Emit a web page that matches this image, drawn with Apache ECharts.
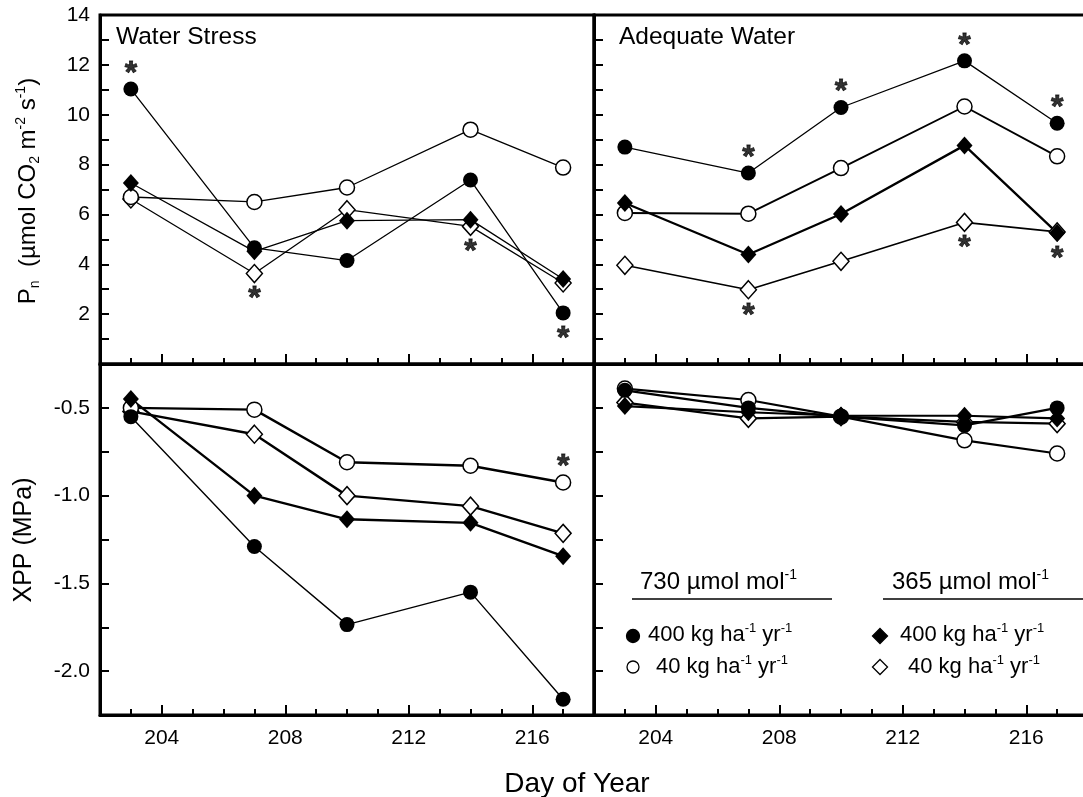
<!DOCTYPE html>
<html><head><meta charset="utf-8">
<script src="https://cdn.jsdelivr.net/npm/echarts@6/dist/echarts.min.js"></script>
<style>html,body{margin:0;padding:0;background:#fff}#c{width:1083px;height:797px}</style>
</head><body><div id="c"></div>
<script>
// ---------------- data ----------------
const days = [203, 207, 210, 214, 217];
const xTickLabels = [204, 208, 212, 216];
const pnTickLabels = [2, 4, 6, 8, 10, 12, 14];
const xppTickLabels = [-2.0, -1.5, -1.0, -0.5];

// Pn, water stress panel
const pnStress730N400 = [11.03, 4.66, 4.15, 7.38, 2.05];
const pnStress730N40  = [6.70, 6.50, 7.08, 9.40, 7.88];
const pnStress365N400 = [7.26, 4.52, 5.75, 5.79, 3.41];
const pnStress365N40  = [6.62, 3.63, 6.19, 5.52, 3.25];
// Pn, adequate water panel
const pnAdequate730N400 = [8.70, 7.66, 10.29, 12.16, 9.66];
const pnAdequate730N40  = [6.06, 6.03, 7.86, 10.33, 8.33];
const pnAdequate365N400 = [6.46, 4.39, 6.02, 8.77, 5.26];
const pnAdequate365N40  = [3.96, 2.98, 4.12, 5.68, 5.30];
// XPP, water stress panel
const xppStress730N400 = [-0.55, -1.29, -1.735, -1.55, -2.16];
const xppStress730N40  = [-0.50, -0.51, -0.81, -0.83, -0.925];
const xppStress365N400 = [-0.45, -1.00, -1.135, -1.155, -1.345];
const xppStress365N40  = [-0.52, -0.65, -1.00, -1.06, -1.215];
// XPP, adequate water panel
const xppAdequate730N400 = [-0.40, -0.50, -0.55, -0.60, -0.50];
const xppAdequate730N40  = [-0.39, -0.455, -0.55, -0.685, -0.76];
const xppAdequate365N400 = [-0.49, -0.525, -0.545, -0.545, -0.56];
const xppAdequate365N40  = [-0.47, -0.56, -0.55, -0.58, -0.59];

// significance asterisks: [day, value of the marked point]
const starsPnStressAbove = [[203, 11.03]];
const starsPnStressBelow = [[207, 3.63], [214, 5.52], [217, 2.05]];
const starsPnAdequateAbove = [[207, 7.66], [210, 10.29], [214, 12.16], [217, 9.66]];
const starsPnAdequateBelow = [[207, 2.98], [214, 5.68], [217, 5.26]];
const starsXppStressAbove = [[217, -0.925]];

// ---------------- chart ----------------
const FONT = "'Liberation Sans', Arial, Helvetica, sans-serif";
const chart = echarts.init(document.getElementById('c'), null, {renderer: 'canvas'});

const grids = [
  {left: 100, top: 15, width: 494, height: 349},
  {left: 594, top: 15, width: 494, height: 349},
  {left: 100, top: 364, width: 494, height: 351},
  {left: 594, top: 364, width: 494, height: 351}
].map(g => Object.assign({show: true, borderColor: '#000', borderWidth: 3, containLabel: false, outerBoundsMode: 'none'}, g));

const xAxes = [];
[0, 1, 2, 3].forEach(gi => {
  xAxes.push({
    gridIndex: gi, type: 'value', min: 202, max: 218, position: 'bottom',
    axisLine: {onZero: false, lineStyle: {color: '#000', width: 3}},
    axisTick: {inside: true, length: 10, customValues: xTickLabels, lineStyle: {color: '#000', width: 2}},
    axisLabel: {show: gi >= 2, customValues: xTickLabels, fontSize: 21, color: '#000', fontFamily: FONT, margin: 13},
    splitLine: {show: false}
  });
  xAxes.push({
    gridIndex: gi, type: 'value', min: 202, max: 218, interval: 1, position: 'bottom',
    axisLine: {show: false},
    axisTick: {inside: true, length: 6, lineStyle: {color: '#000', width: 2}},
    axisLabel: {show: false}, splitLine: {show: false}
  });
});

function pnY(gi, labels) {
  return {
    gridIndex: gi, type: 'value', min: 0, max: 14, interval: 1,
    axisLine: {onZero: false, lineStyle: {color: '#000', width: 3}},
    axisTick: {inside: true, length: 9, lineStyle: {color: '#000', width: 2}},
    axisLabel: {show: labels, customValues: pnTickLabels, fontSize: 21, color: '#000', fontFamily: FONT, margin: 10},
    splitLine: {show: false}
  };
}
function xppY(gi, labels) {
  return {
    gridIndex: gi, type: 'value', min: -2.25, max: -0.25, interval: 0.25,
    axisLine: {onZero: false, lineStyle: {color: '#000', width: 3}},
    axisTick: {inside: true, length: 9, lineStyle: {color: '#000', width: 2}},
    axisLabel: {show: labels, customValues: xppTickLabels, formatter: v => v.toFixed(1),
                fontSize: 21, color: '#000', fontFamily: FONT, margin: 10},
    splitLine: {show: false}
  };
}
const yAxes = [pnY(0, true), pnY(1, false), xppY(2, true), xppY(3, false)];

function lineSeries(gi, values, kind, lw) {
  const filled = kind === 'fc' || kind === 'fd';
  const isCircle = kind === 'fc' || kind === 'oc';
  return {
    type: 'line', xAxisIndex: gi * 2, yAxisIndex: gi,
    data: days.map((d, i) => [d, values[i]]),
    symbol: isCircle ? 'circle' : 'diamond',
    symbolSize: isCircle ? 15 : [16, 18],
    showSymbol: true, animation: false, silent: true,
    lineStyle: {color: '#000', width: lw},
    itemStyle: {color: filled ? '#000' : '#fff', borderColor: '#000', borderWidth: filled ? 0 : 1.5, opacity: 1}
  };
}
function starSeries(gi, pts, above) {
  return {
    type: 'scatter', xAxisIndex: gi * 2, yAxisIndex: gi, data: pts,
    symbol: 'circle', symbolSize: 1, itemStyle: {color: 'rgba(0,0,0,0)'}, silent: true, animation: false, z: 5,
    label: {show: true, formatter: '*', position: 'inside', offset: [0, above ? -15 : 26],
            fontSize: 32, fontWeight: 'bold', color: '#000', fontFamily: FONT,
            textBorderColor: '#000', textBorderWidth: 0.8}
  };
}

const series = [
  lineSeries(0, pnStress365N40, 'od', 1.3),
  lineSeries(0, pnStress730N40, 'oc', 1.3),
  lineSeries(0, pnStress365N400, 'fd', 1.3),
  lineSeries(0, pnStress730N400, 'fc', 1.3),
  lineSeries(1, pnAdequate365N40, 'od', 1.6),
  lineSeries(1, pnAdequate730N40, 'oc', 1.9),
  lineSeries(1, pnAdequate365N400, 'fd', 2.3),
  lineSeries(1, pnAdequate730N400, 'fc', 1.3),
  lineSeries(2, xppStress365N40, 'od', 2.4),
  lineSeries(2, xppStress730N40, 'oc', 2.4),
  lineSeries(2, xppStress365N400, 'fd', 2.4),
  lineSeries(2, xppStress730N400, 'fc', 1.4),
  lineSeries(3, xppAdequate730N40, 'oc', 2.2),
  lineSeries(3, xppAdequate365N40, 'od', 2.2),
  lineSeries(3, xppAdequate730N400, 'fc', 2.2),
  lineSeries(3, xppAdequate365N400, 'fd', 2.2),
  starSeries(0, starsPnStressAbove, true),
  starSeries(0, starsPnStressBelow, false),
  starSeries(1, starsPnAdequateAbove, true),
  starSeries(1, starsPnAdequateBelow, false),
  starSeries(2, starsXppStressAbove, true)
];

const rich = {
  t: {fontSize: 24, fontFamily: FONT, color: '#000', lineHeight: 28},
  sup: {fontSize: 14, fontFamily: FONT, color: '#000', lineHeight: 14, verticalAlign: 'top'},
  sub: {fontSize: 14, fontFamily: FONT, color: '#000', lineHeight: 14, verticalAlign: 'bottom'}
};
const richL = {
  t: {fontSize: 22, fontFamily: FONT, color: '#000', lineHeight: 26},
  sup: {fontSize: 13, fontFamily: FONT, color: '#000', lineHeight: 13, verticalAlign: 'top'}
};
function txt(x, y, text, size, align, rot) {
  return {type: 'text', x: x, y: y, rotation: rot || 0, silent: true,
          style: {text: text, fontSize: size, fontFamily: FONT, fill: '#000', align: align || 'left', verticalAlign: 'middle'}};
}
function richTxt(x, y, text, r, align, rot) {
  return {type: 'text', x: x, y: y, rotation: rot || 0, silent: true,
          style: {text: text, rich: r, align: align || 'left', verticalAlign: 'middle', fill: '#000'}};
}
function diamond(cx, cy, w, h, filled) {
  return {type: 'polygon', silent: true, shape: {points: [[cx, cy - h / 2], [cx + w / 2, cy], [cx, cy + h / 2], [cx - w / 2, cy]]},
          style: {fill: filled ? '#000' : '#fff', stroke: '#000', lineWidth: 1.3}};
}
function circle(cx, cy, r, filled) {
  return {type: 'circle', silent: true, shape: {cx: cx, cy: cy, r: r},
          style: {fill: filled ? '#000' : '#fff', stroke: '#000', lineWidth: 1.3}};
}

const graphic = [
  txt(116, 37, 'Water Stress', 24.5),
  txt(619, 37, 'Adequate Water', 24.5),
  richTxt(28, 191, '{t|P}{sub|n}{t|  (µmol CO}{sub|2}{t| m}{sup|-2}{t| s}{sup|-1}{t|)}', rich, 'center', Math.PI / 2),
  txt(24, 540, 'XPP (MPa)', 25, 'center', Math.PI / 2),
  txt(577, 784, 'Day of Year', 28, 'center'),
  // legend
  richTxt(640, 582, '{t|730 µmol mol}{sup|-1}', {t: {fontSize: 24, fontFamily: FONT, color: '#000', lineHeight: 28}, sup: rich.sup}),
  richTxt(892, 582, '{t|365 µmol mol}{sup|-1}', {t: {fontSize: 24, fontFamily: FONT, color: '#000', lineHeight: 28}, sup: rich.sup}),
  {type: 'line', silent: true, shape: {x1: 632, y1: 599, x2: 832, y2: 599}, style: {stroke: '#000', lineWidth: 1.3}},
  {type: 'line', silent: true, shape: {x1: 883, y1: 599, x2: 1083, y2: 599}, style: {stroke: '#000', lineWidth: 1.3}},
  circle(633, 636, 6.5, true),
  richTxt(648, 635, '{t|400 kg ha}{sup|-1}{t| yr}{sup|-1}', richL),
  circle(633, 667, 6, false),
  richTxt(656, 667, '{t|40 kg ha}{sup|-1}{t| yr}{sup|-1}', richL),
  diamond(880, 636, 15, 15, true),
  richTxt(900, 635, '{t|400 kg ha}{sup|-1}{t| yr}{sup|-1}', richL),
  diamond(880, 667, 15, 15, false),
  richTxt(908, 667, '{t|40 kg ha}{sup|-1}{t| yr}{sup|-1}', richL)
];

chart.setOption({
  animation: false,
  backgroundColor: '#fff',
  grid: grids,
  xAxis: xAxes,
  yAxis: yAxes,
  series: series,
  graphic: graphic
});
</script>
</body></html>
